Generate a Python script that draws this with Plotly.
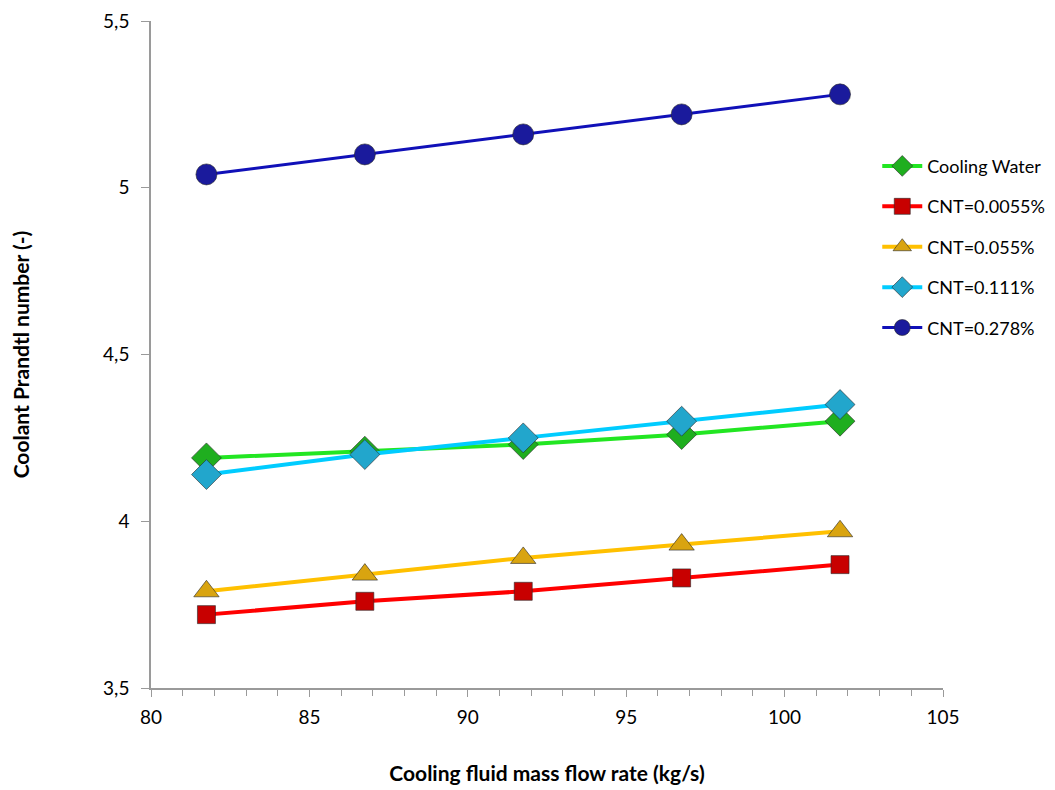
import plotly.graph_objects as go

flow_rate = [81.75, 86.75, 91.75, 96.75, 101.75]
cooling_water = [4.19, 4.21, 4.23, 4.26, 4.30]
cnt_00055 = [3.72, 3.76, 3.79, 3.83, 3.87]
cnt_0055 = [3.79, 3.84, 3.89, 3.93, 3.97]
cnt_0111 = [4.14, 4.20, 4.25, 4.30, 4.35]
cnt_0278 = [5.04, 5.10, 5.16, 5.22, 5.28]

series = [
    ("Cooling Water", cooling_water, "#22E622", "#1FAE1F", "diamond", 23, 4),
    ("CNT=0.0055%", cnt_00055, "#FF0000", "#C80000", "square", 18, 4),
    ("CNT=0.055%", cnt_0055, "#FFC000", "#D9A410", "triangle-up", 22, 4),
    ("CNT=0.111%", cnt_0111, "#00CCFF", "#22A6CC", "diamond", 23, 4),
    ("CNT=0.278%", cnt_0278, "#1010B8", "#1A1A9C", "circle", 21, 3),
]

fig = go.Figure()
for i, (name, ys, lc, mc, sym, size, lw) in enumerate(series):
    fig.add_trace(go.Scatter(
        x=flow_rate, y=ys, name=name, mode="lines+markers",
        legendgroup=f"g{i}",
        line=dict(color=lc, width=lw),
        marker=dict(symbol=sym, size=size, color=mc,
                    line=dict(color="rgba(40,40,40,0.6)", width=1)),
    ))

font_family = "Lato, Liberation Sans, Arial, sans-serif"
fig.update_layout(
    width=1055, height=790,
    paper_bgcolor="white", plot_bgcolor="white",
    separators=",.",
    margin=dict(l=143, r=120, t=13, b=110),
    font=dict(family=font_family, size=19, color="black"),
    legend=dict(x=0.917, y=0.81, xanchor="left", yanchor="top",
                bgcolor="rgba(0,0,0,0)", tracegroupgap=14,
                font=dict(family=font_family, size=18),
                itemwidth=40),
    showlegend=True,
)
fig.update_xaxes(
    range=[80, 105], tickvals=[80, 85, 90, 95, 100, 105],
    showgrid=False, zeroline=False, automargin=False,
    showline=True, linecolor="#9a9a9a", linewidth=1.5,
    ticks="outside", ticklen=7, tickcolor="#9a9a9a",
    minor=dict(dtick=1, ticks="outside", ticklen=6, tickcolor="#9a9a9a"),
    tickfont=dict(size=19), ticklabelstandoff=4,
    title=dict(text="<b>Cooling fluid mass flow rate (kg/s)</b>",
               font=dict(family=font_family, size=21), standoff=40),
)
fig.update_yaxes(
    range=[3.5, 5.5], tickvals=[3.5, 4, 4.5, 5, 5.5],
    showgrid=False, zeroline=False, automargin=False,
    showline=True, linecolor="#9a9a9a", linewidth=1.5,
    ticks="outside", ticklen=8, tickcolor="#9a9a9a",
    tickfont=dict(size=19), ticklabelstandoff=8,
    title=dict(text="<b>Coolant Prandtl number (-)</b>",
               font=dict(family=font_family, size=21), standoff=75),
)

fig.write_html("out.html")
